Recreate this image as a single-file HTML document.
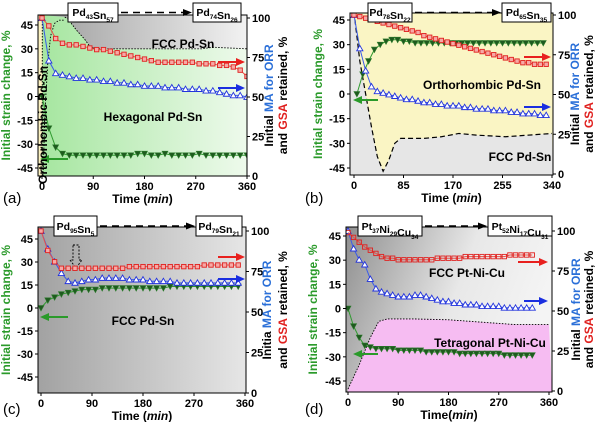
<!DOCTYPE html>
<html><head><meta charset="utf-8">
<style>
html,body{margin:0;padding:0;background:#fff;}
svg{display:block;font-family:"Liberation Sans",Arial,sans-serif;}
</style></head>
<body>
<svg id="fig" width="600" height="422" viewBox="0 0 600 422" xmlns="http://www.w3.org/2000/svg">
<defs>
<linearGradient id="gA" x1="0" x2="1" y1="0" y2="0"><stop offset="0" stop-color="#9d9d9d"/><stop offset="1" stop-color="#f2f2f2"/></linearGradient>
<linearGradient id="hexA" x1="0" x2="1" y1="0" y2="0"><stop offset="0" stop-color="#a6e6a0"/><stop offset="1" stop-color="#eefaec"/></linearGradient>
<linearGradient id="gC" x1="0" x2="1" y1="0" y2="0"><stop offset="0" stop-color="#a2a2a2"/><stop offset="1" stop-color="#e6e6e6"/></linearGradient>
<linearGradient id="gD" x1="0" x2="1" y1="0" y2="0.3"><stop offset="0" stop-color="#8e8e8e"/><stop offset="0.6" stop-color="#e8e8e8"/><stop offset="1" stop-color="#f4f4f4"/></linearGradient>
</defs>
</svg>
<script>
// ---------- data ----------
const timeA=[0,12,24,36,48,60,72,84,96,108,120,132,144,156,168,180,192,204,216,228,240,252,264,276,288,300,312,324,336,348,360];
const gsaA=[100,95,87,84,83,83,82,81,80,80,79,78,77,76,75,74,73,72,72,72,72,72,72,71,71,71,70,70,69,67,63];
const maA=[100,73,65,64,63,62,62,61,61,60,60,59,59,58,58,57,57,57,56,56,56,55,55,55,54,54,53,52,51,51,50];
const strainA=[0,-20,-32,-36,-37,-37,-37,-37,-37,-37,-37,-37,-37,-37,-36,-36,-37,-37,-36,-37,-37,-37,-37,-36,-37,-37,-37,-37,-37,-37,-37];
const timeB=[0,10,20,30,40,50,60,70,80,90,100,110,120,130,140,150,160,170,180,190,200,210,220,230,240,250,260,270,280,290,300,310,320,330];
const gsaB=[100,99,98,97,96,95,94,93,92,91,90,89,87,86,85,84,83,82,81,80,79,78,77,76,75,74,73,72,71,70,70,69,69,69];
const maB=[100,79,65,55,52,51,50,49,48,47,47,46,45,45,44,44,43,43,43,42,42,41,41,41,40,40,40,39,39,38,38,38,37,37];
const timeB2=[5,15,25,35,45,55,65,75,85,95,105,115,125,135,145,155,165,175,185,195,205,215,225,235,245,255,265,275,285,295,305,315,325];
const strainB=[0,12,20,27,30,32,33,33,32,32,31,31,31,31,31,31,31,31,31,31,31,31,31,31,31,31,31,31,31,31,31,31,31];
const timeC=[0,12,24,36,48,60,72,84,96,108,120,132,144,156,168,180,192,204,216,228,240,252,264,276,288,300,312,324,336,348];
const gsaC=[100,88,81,77,77,77,77,77,77,77,77,77,77,78,78,78,78,78,78,78,78,78,78,78,79,79,79,79,79,79];
const maC=[100,89,81,74,69,68,69,70,70,71,71,71,71,70,70,70,69,69,69,69,68,68,68,68,68,68,68,68,68,68];
const strainC=[0,5,7,9,10,11,12,12,12,13,13,13,13,13,13,13,13,13,13,14,14,14,14,14,14,14,14,14,14,14];
const timeD=[0,10,20,30,40,50,60,70,80,90,100,110,120,130,140,150,160,170,180,190,200,210,220,230,240,250,260,270,280,290,300,310,320,330];
const gsaD=[99,96,93,90,88,86,84,83,83,82,82,82,82,82,82,82,83,83,83,83,83,84,84,84,84,84,84,84,84,85,85,85,85,85];
const maD=[100,89,82,79,70,64,62,61,60,59,59,59,60,60,59,58,57,56,56,55,55,54,54,54,53,53,53,53,52,52,52,52,52,52];
const strainD=[0,-11,-18,-23,-24,-25,-25,-25,-25,-26,-26,-26,-26,-26,-27,-27,-27,-27,-27,-27,-28,-28,-28,-28,-28,-28,-28,-28,-29,-29,-29,-29,-29,-29];
// phase boundaries (time, strain units)
const fccTopA_t=[40,45,60,75,85,95,180,280,300,360];
const fccTopA_v=[50,49,42,36,31,30,30,30,31,30];
const orthoA_t=[2,5,10,15,22,30,40];
const orthoA_v=[-50,-10,20,38,46,48,48];
const fccB_t=[0,10,20,30,40,50,60,70,80,120,150,180,210,260,340];
const fccB_v=[50,20,0,-20,-38,-47,-40,-30,-27,-27,-26,-24,-25,-26,-24];
const tetD_t=[0,20,40,55,70,120,180,260,300,360];
const tetD_v=[-50,-35,-18,-8,-6.5,-6.5,-7,-9,-10,-10];
const leftTicks=[45,30,15,0,-15,-30,-45];
const rightTicks=[100,75,50,25,0];
const xTicks360=[0,90,180,270,360];
const xTicks340=[0,85,170,255,340];

const NS="http://www.w3.org/2000/svg";
const svg=document.getElementById('fig');
function el(tag,attrs,parent,text){const e=document.createElementNS(NS,tag);for(const k in attrs)e.setAttribute(k,attrs[k]);if(text!==undefined)e.textContent=text;(parent||svg).appendChild(e);return e;}
function lin(a,b){return v=>a[1]+(v-a[0])*(b[1]-a[1])/(b[0]-a[0]);}

function makePanel(p){
  const g=el('g',{});
  
  
  const X=lin(p.x0,p.x1),L=lin(p.l0,p.l1),R=lin(p.r0,p.r1);
  const r=p.rect;
  const clip=el('clipPath',{id:'clip'+p.id},g);
  el('rect',{x:r[0],y:r[1],width:r[2]-r[0],height:r[3]-r[1]},clip);
  const bg=el('g',{'clip-path':'url(#clip'+p.id+')'},g);
  p.bg(bg,X,L,r);
  const ser=el('g',{'clip-path':'url(#clip'+p.id+')'},g);
  function series(ts,vs,sc,col,mk,name){
    const s=el('g',{},ser);
    
    
    el('polyline',{points:ts.map((t,i)=>X(t)+','+sc(vs[i])).join(' '),fill:'none',stroke:col,'stroke-width':1},s);
    ts.forEach((t,i)=>{const x=X(t),y=sc(vs[i]);
      if(mk==='sq')el('rect',{x:x-2.2,y:y-2.2,width:4.4,height:4.4,fill:p.sqFill,stroke:'#e0201e','stroke-width':0.9},s);
      else if(mk==='up')el('polygon',{points:`${x},${y-3} ${x-3.1},${y+2.4} ${x+3.1},${y+2.4}`,fill:'#fff',stroke:'#2233dd','stroke-width':0.9},s);
      else el('polygon',{points:`${x-3},${y-2.5} ${x+3},${y-2.5} ${x},${y+3}`,fill:'#1f5a1f',stroke:'#2a7a2a','stroke-width':0.6},s);
    });
  }
  series(p.tG,p.strain,L,'#2f9a2f','dn','strain-series-'+p.id);
  series(p.tM,p.ma,R,'#3a5bea','up','ma-series-'+p.id);
  series(p.tS,p.gsa,R,'#e8504a','sq','gsa-series-'+p.id);
  const fr=el('rect',{x:r[0],y:r[1],width:r[2]-r[0],height:r[3]-r[1],fill:'none',stroke:'#000','stroke-width':1},g);
  
  
  const fs='font-size:11px;font-weight:bold';
  leftTicks.forEach(v=>{const y=L(v);el('line',{x1:r[0],x2:r[0]-3,y1:y,y2:y,stroke:'#000'},g);
    const t=el('text',{x:r[0]-5,y:y+4,'text-anchor':'end',style:fs},g,String(v));
    });
  rightTicks.forEach(v=>{const y=R(v);el('line',{x1:r[2],x2:r[2]+3,y1:y,y2:y,stroke:'#000'},g);
    const t=el('text',{x:r[2]+5,y:y+4,style:fs},g,String(v));
    });
  p.xt.forEach(v=>{const x=X(v);el('line',{x1:x,x2:x,y1:r[3],y2:r[3]+3,stroke:'#000'},g);
    const t=el('text',{x:x,y:r[3]+14,'text-anchor':'middle',style:fs},g,String(v));
    });
  const cx=(r[0]+r[2])/2, cy=(r[1]+r[3])/2;
  const xt=el('text',{x:cx,y:r[3]+27,'text-anchor':'middle',style:'font-size:12px;font-weight:bold'},g);
  
  el('tspan',{},xt,p.timeLbl?'Time(':'Time (');el('tspan',{style:'font-style:italic'},xt,'min');el('tspan',{},xt,')');
  const yl=el('text',{x:0,y:0,transform:`translate(${p.ylx},${cy}) rotate(-90)`,'text-anchor':'middle',fill:'#2a9a2a',style:'font-size:12px;font-weight:bold'},g,'Initial strain change, %');
  
  const y1=el('text',{x:0,y:0,transform:`translate(${p.yr1},${cy}) rotate(-90)`,'text-anchor':'middle',style:'font-size:12px;font-weight:bold'},g);
  
  el('tspan',{},y1,p.initia||'Initial ');el('tspan',{fill:'#2a6fd8'},y1,'MA for ORR');
  const y2=el('text',{x:0,y:0,transform:`translate(${p.yr2},${cy}) rotate(-90)`,'text-anchor':'middle',style:'font-size:12px;font-weight:bold'},g);
  
  el('tspan',{},y2,'and ');el('tspan',{fill:'#e0201e'},y2,'GSA');el('tspan',{},y2,' retained, %');
  const pl=el('text',{x:p.lab[0],y:p.lab[1],style:'font-size:15px'},g,'('+p.id+')');
  
  function box(b,parts,name){
    const bg2=el('g',{},g);
    el('rect',{x:b[0],y:b[1],width:b[2]-b[0],height:b[3]-b[1],fill:'#fff',stroke:'#000','stroke-width':1},bg2);
    const t=el('text',{x:(b[0]+b[2])/2,y:b[3]-6,'text-anchor':'middle',style:'font-size:10.5px;font-weight:bold'},bg2);
    parts.forEach(([s,sub])=>{el('tspan',{},t,s);el('tspan',{dy:3,style:'font-size:6.5px'},t,sub);el('tspan',{dy:-3},t,'');});
  }
  box(p.b1,p.c1,'composition-start-'+p.id);
  box(p.b2,p.c2,'composition-end-'+p.id);
  const ay=(p.b1[1]+p.b1[3])/2;
  el('line',{x1:p.b1[2]+3,x2:p.b2[0]-8,y1:ay,y2:ay,stroke:'#000','stroke-width':1.6,'stroke-dasharray':'7,5'},g);
  el('polygon',{points:`${p.b2[0]-1},${ay} ${p.b2[0]-10},${ay-3.5} ${p.b2[0]-10},${ay+3.5}`,fill:'#000'},g);
  function arrow(a,col,dir,name){
    const ag=el('g',{},g);
    const [x1,x2,y]=a;
    if(dir>0){el('line',{x1:x1,x2:x2-7,y1:y,y2:y,stroke:col,'stroke-width':2},ag);el('polygon',{points:`${x2},${y} ${x2-9},${y-4} ${x2-9},${y+4}`,fill:col},ag);}
    else{el('line',{x1:x1+7,x2:x2,y1:y,y2:y,stroke:col,'stroke-width':2},ag);el('polygon',{points:`${x1},${y} ${x1+9},${y-4} ${x1+9},${y+4}`,fill:col},ag);}
  }
  arrow(p.ar,'#e8201e',1,'gsa-axis-arrow-'+p.id);
  arrow(p.ab,'#1a2ee0',1,'ma-axis-arrow-'+p.id);
  arrow(p.ag,'#2a9a2a',-1,'strain-axis-arrow-'+p.id);
  p.labels.forEach(([txt,x,y,rot])=>{
    const t=el('text',{x:0,y:0,transform:`translate(${x},${y})`+(rot?' rotate(-90)':''),'text-anchor':'middle',style:'font-size:12px;font-weight:bold'},g,txt);
    
  });
  return {g,X,L,R};
}
function pathFrom(ts,vs,X,L){return ts.map((t,i)=>X(t)+','+L(vs[i])).join(' ');}

makePanel({id:'a',x0:[0,42],x1:[360,247],l0:[45,25],l1:[-45,168],r0:[100,18],r1:[0,176],rect:[38,15,247,176],
 tG:timeA,strain:strainA,tM:timeA,ma:maA,tS:timeA,gsa:gsaA,sqFill:'#f6a9a6',xt:xTicks360,
 ylx:10,yr1:273,yr2:287,lab:[3,203],b1:[68,3,118,22],c1:[['Pd','43'],['Sn','57']],b2:[193,3,241,22],c2:[['Pd','74'],['Sn','26']],
 ar:[218,245,62],ab:[218,245,88],ag:[40,68,159],
 labels:[['FCC Pd-Sn',183,48],['Hexagonal Pd-Sn',153,121],['Orthorhombic  Pd-Sn',47,125,true]],
 bg:(b,X,L,r)=>{
  el('rect',{x:r[0],y:r[1],width:r[2]-r[0],height:r[3]-r[1],fill:'url(#gA)'},b);
  el('polygon',{points:`${X(0.5)},${r[3]} ${X(0.5)},${r[1]} ${pathFrom(fccTopA_t,fccTopA_v,X,L)} ${r[2]},${r[3]}`,fill:'url(#hexA)'},b);
  el('rect',{x:r[0],y:r[1],width:X(0.5)-r[0],height:r[3]-r[1],fill:'#fbf1c0'},b);
  el('polyline',{points:pathFrom(fccTopA_t,fccTopA_v,X,L),fill:'none',stroke:'#000','stroke-width':0.9,'stroke-dasharray':'1.5,1.5'},b);
  el('polyline',{points:pathFrom(orthoA_t,orthoA_v,X,L),fill:'none',stroke:'#000','stroke-width':0.9,'stroke-dasharray':'1.5,1.5'},b);
  el('line',{x1:X(0.5),x2:X(0.5),y1:r[1],y2:r[3],stroke:'#000','stroke-width':0.9,'stroke-dasharray':'1.5,1.5'},b);
 }});

makePanel({id:'b',x0:[0,354],x1:[340,552],l0:[45,20],l1:[-45,168],r0:[100,15],r1:[0,174],rect:[350,13,553,175],
 tG:timeB2,strain:strainB,tM:timeB,ma:maB,tS:timeB,gsa:gsaB,sqFill:'#f6a9a6',xt:xTicks340,
 ylx:322,yr1:579,yr2:593,lab:[305,203],b1:[368,3,412,22],c1:[['Pd','78'],['Sn','22']],b2:[502,3,551,22],c2:[['Pd','65'],['Sn','35']],
 ar:[524,551,57],ab:[524,551,107],ag:[353,378,100],
 labels:[['Orthorhombic Pd-Sn',482,89],['FCC Pd-Sn',520,161]],
 bg:(b,X,L,r)=>{
  el('rect',{x:r[0],y:r[1],width:r[2]-r[0],height:r[3]-r[1],fill:'#faf5c4'},b);
  el('polygon',{points:`${r[0]},${r[3]} ${r[0]},${r[1]} ${pathFrom(fccB_t,fccB_v,X,L)} ${r[2]},${r[3]}`,fill:'#e6e6e6'},b);
  el('polyline',{points:pathFrom(fccB_t,fccB_v,X,L),fill:'none',stroke:'#000','stroke-width':1.2,'stroke-dasharray':'5,3'},b);
 }});

makePanel({id:'c',x0:[0,41],x1:[360,245],l0:[45,239],l1:[-45,377],r0:[100,231],r1:[0,393],rect:[38,227,246,393],
 tG:timeC,strain:strainC,tM:timeC,ma:maC,tS:timeC,gsa:gsaC,sqFill:'#f6a9a6',xt:xTicks360,
 ylx:10,yr1:271,yr2:287,initia:'Initia ',lab:[3,414],b1:[54,216,97,236],c1:[['Pd','95'],['Sn','5']],b2:[196,216,242,236],c2:[['Pd','79'],['Sn','21']],
 ar:[218,245,257],ab:[218,245,279],ag:[40,68,317],
 labels:[['FCC Pd-Sn',143,325]],
 bg:(b,X,L,r)=>{
  el('rect',{x:r[0],y:r[1],width:r[2]-r[0],height:r[3]-r[1],fill:'url(#gC)'},b);
  el('polygon',{points:'73,245 79,245 79,260 82,260 76,268 70,260 73,260',fill:'none',stroke:'#000','stroke-width':0.9,'stroke-dasharray':'2,1.5'},b);
 }});

makePanel({id:'d',x0:[0,348],x1:[360,549],l0:[45,236],l1:[-45,381],r0:[100,231],r1:[0,391],rect:[346,227,552,392],
 tG:timeD,strain:strainD,tM:timeD,ma:maD,tS:timeD,gsa:gsaD,sqFill:'none',xt:xTicks360,timeLbl:true,
 ylx:317,yr1:580,yr2:593,lab:[305,414],b1:[358,216,422,236],c1:[['Pt','37'],['Ni','29'],['Cu','34']],b2:[488,216,552,236],c2:[['Pt','52'],['Ni','17'],['Cu','31']],
 ar:[518,548,262],ab:[524,548,301],ag:[353,378,354],
 labels:[['FCC Pt-Ni-Cu',467,277],['Tetragonal Pt-Ni-Cu',490,347]],
 bg:(b,X,L,r)=>{
  el('rect',{x:r[0],y:r[1],width:r[2]-r[0],height:r[3]-r[1],fill:'url(#gD)'},b);
  el('polygon',{points:`${pathFrom(tetD_t,tetD_v,X,L)} ${r[2]},${r[3]} ${X(0)},${r[3]}`,fill:'#f6bcf2'},b);
  el('polyline',{points:pathFrom(tetD_t,tetD_v,X,L),fill:'none',stroke:'#000','stroke-width':0.9,'stroke-dasharray':'1.5,1.5'},b);
 }});
</script>
</body></html>
